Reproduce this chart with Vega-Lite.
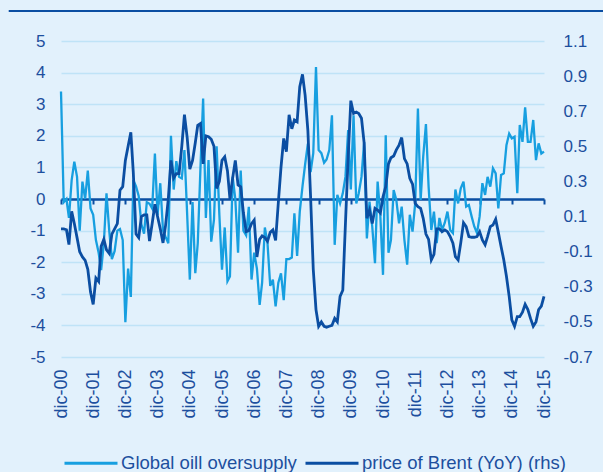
{
  "$schema": "https://vega.github.io/schema/vega-lite/v6.json",
  "width": 483,
  "height": 316,
  "autosize": {"type": "none"},
  "padding": {"left": 61, "top": 41, "right": 59, "bottom": 115},
  "background": "#e2f1fc",
  "config": {
    "view": {"stroke": null},
    "font": "Liberation Sans",
    "locale": {"number": {"decimal": ".", "thousands": ",", "grouping": [3], "currency": ["$", ""], "minus": "-"}},
    "axis": {"labelFont": "Liberation Sans", "labelColor": "#1d4f9e", "titleColor": "#1d4f9e"},
    "legend": {"labelFont": "Liberation Sans"}
  },
  "data": {"values": [
    {"date":"2000-12-01","oversupply":3.4,"brent":0.03},
    {"date":"2001-01-01","oversupply":-0.1,"brent":0.03},
    {"date":"2001-02-01","oversupply":0.0,"brent":0.025},
    {"date":"2001-03-01","oversupply":-0.6,"brent":-0.06},
    {"date":"2001-04-01","oversupply":0.6,"brent":0.13},
    {"date":"2001-05-01","oversupply":1.18,"brent":0.06},
    {"date":"2001-06-01","oversupply":0.7,"brent":-0.02},
    {"date":"2001-07-01","oversupply":-1.0,"brent":-0.1},
    {"date":"2001-08-01","oversupply":0.55,"brent":-0.13},
    {"date":"2001-09-01","oversupply":0.0,"brent":-0.15},
    {"date":"2001-10-01","oversupply":0.9,"brent":-0.2},
    {"date":"2001-11-01","oversupply":-0.3,"brent":-0.33},
    {"date":"2001-12-01","oversupply":-0.5,"brent":-0.4},
    {"date":"2002-01-01","oversupply":-1.3,"brent":-0.25},
    {"date":"2002-02-01","oversupply":-1.7,"brent":-0.27},
    {"date":"2002-03-01","oversupply":-2.25,"brent":-0.07},
    {"date":"2002-04-01","oversupply":-1.4,"brent":-0.03},
    {"date":"2002-05-01","oversupply":0.18,"brent":-0.09},
    {"date":"2002-06-01","oversupply":-1.0,"brent":-0.11},
    {"date":"2002-07-01","oversupply":-1.9,"brent":0.0},
    {"date":"2002-08-01","oversupply":-1.65,"brent":0.03},
    {"date":"2002-09-01","oversupply":-1.0,"brent":0.06},
    {"date":"2002-10-01","oversupply":-0.95,"brent":0.25},
    {"date":"2002-11-01","oversupply":-1.3,"brent":0.27},
    {"date":"2002-12-01","oversupply":-3.9,"brent":0.42},
    {"date":"2003-01-01","oversupply":-2.2,"brent":0.5},
    {"date":"2003-02-01","oversupply":-3.1,"brent":0.58},
    {"date":"2003-03-01","oversupply":0.6,"brent":0.35},
    {"date":"2003-04-01","oversupply":0.4,"brent":0.0},
    {"date":"2003-05-01","oversupply":0.1,"brent":-0.02},
    {"date":"2003-06-01","oversupply":-0.8,"brent":0.1},
    {"date":"2003-07-01","oversupply":-1.1,"brent":0.11},
    {"date":"2003-08-01","oversupply":-0.1,"brent":0.11},
    {"date":"2003-09-01","oversupply":-0.15,"brent":-0.04},
    {"date":"2003-10-01","oversupply":-0.3,"brent":0.06},
    {"date":"2003-11-01","oversupply":1.44,"brent":0.17},
    {"date":"2003-12-01","oversupply":-0.5,"brent":0.1},
    {"date":"2004-01-01","oversupply":0.5,"brent":0.03},
    {"date":"2004-02-01","oversupply":-1.0,"brent":-0.05},
    {"date":"2004-03-01","oversupply":-1.2,"brent":0.05},
    {"date":"2004-04-01","oversupply":-1.4,"brent":0.2},
    {"date":"2004-05-01","oversupply":2.0,"brent":0.42},
    {"date":"2004-06-01","oversupply":0.3,"brent":0.32},
    {"date":"2004-07-01","oversupply":1.2,"brent":0.345},
    {"date":"2004-08-01","oversupply":0.7,"brent":0.345},
    {"date":"2004-09-01","oversupply":0.65,"brent":0.5},
    {"date":"2004-10-01","oversupply":1.55,"brent":0.68},
    {"date":"2004-11-01","oversupply":-0.5,"brent":0.55},
    {"date":"2004-12-01","oversupply":-2.55,"brent":0.37},
    {"date":"2005-01-01","oversupply":-0.1,"brent":0.42},
    {"date":"2005-02-01","oversupply":-2.35,"brent":0.52},
    {"date":"2005-03-01","oversupply":-1.4,"brent":0.62},
    {"date":"2005-04-01","oversupply":1.0,"brent":0.63},
    {"date":"2005-05-01","oversupply":3.18,"brent":0.4},
    {"date":"2005-06-01","oversupply":-0.6,"brent":0.56},
    {"date":"2005-07-01","oversupply":1.23,"brent":0.555},
    {"date":"2005-08-01","oversupply":-1.35,"brent":0.54},
    {"date":"2005-09-01","oversupply":-0.65,"brent":0.5},
    {"date":"2005-10-01","oversupply":1.67,"brent":0.26},
    {"date":"2005-11-01","oversupply":-0.5,"brent":0.3},
    {"date":"2005-12-01","oversupply":-2.24,"brent":0.42},
    {"date":"2006-01-01","oversupply":-0.9,"brent":0.44},
    {"date":"2006-02-01","oversupply":-2.6,"brent":0.36},
    {"date":"2006-03-01","oversupply":-2.45,"brent":0.2},
    {"date":"2006-04-01","oversupply":0.7,"brent":0.32},
    {"date":"2006-05-01","oversupply":0.0,"brent":0.42},
    {"date":"2006-06-01","oversupply":-1.7,"brent":0.28},
    {"date":"2006-07-01","oversupply":0.9,"brent":0.27},
    {"date":"2006-08-01","oversupply":-1.0,"brent":0.12},
    {"date":"2006-09-01","oversupply":-1.15,"brent":0.014},
    {"date":"2006-10-01","oversupply":-0.25,"brent":0.02},
    {"date":"2006-11-01","oversupply":-2.55,"brent":0.06},
    {"date":"2006-12-01","oversupply":-1.7,"brent":0.08},
    {"date":"2007-01-01","oversupply":-2.2,"brent":-0.13},
    {"date":"2007-02-01","oversupply":-3.35,"brent":-0.03},
    {"date":"2007-03-01","oversupply":-2.65,"brent":-0.01},
    {"date":"2007-04-01","oversupply":-0.9,"brent":-0.02},
    {"date":"2007-05-01","oversupply":-1.4,"brent":-0.04},
    {"date":"2007-06-01","oversupply":-2.75,"brent":0.01},
    {"date":"2007-07-01","oversupply":-2.55,"brent":0.024},
    {"date":"2007-08-01","oversupply":-3.4,"brent":-0.036},
    {"date":"2007-09-01","oversupply":-2.65,"brent":0.18},
    {"date":"2007-10-01","oversupply":-2.35,"brent":0.38},
    {"date":"2007-11-01","oversupply":-3.2,"brent":0.545},
    {"date":"2007-12-01","oversupply":-1.9,"brent":0.47},
    {"date":"2008-01-01","oversupply":-1.9,"brent":0.68},
    {"date":"2008-02-01","oversupply":-1.85,"brent":0.6},
    {"date":"2008-03-01","oversupply":-0.45,"brent":0.65},
    {"date":"2008-04-01","oversupply":-1.8,"brent":0.64},
    {"date":"2008-05-01","oversupply":-0.4,"brent":0.84},
    {"date":"2008-06-01","oversupply":0.4,"brent":0.91},
    {"date":"2008-07-01","oversupply":1.1,"brent":0.79},
    {"date":"2008-08-01","oversupply":1.75,"brent":0.59},
    {"date":"2008-09-01","oversupply":0.85,"brent":0.21},
    {"date":"2008-10-01","oversupply":1.45,"brent":-0.2},
    {"date":"2008-11-01","oversupply":4.18,"brent":-0.43},
    {"date":"2008-12-01","oversupply":1.55,"brent":-0.525},
    {"date":"2009-01-01","oversupply":1.45,"brent":-0.5},
    {"date":"2009-02-01","oversupply":1.15,"brent":-0.525},
    {"date":"2009-03-01","oversupply":1.25,"brent":-0.53},
    {"date":"2009-04-01","oversupply":1.55,"brent":-0.525},
    {"date":"2009-05-01","oversupply":2.65,"brent":-0.52},
    {"date":"2009-06-01","oversupply":-1.45,"brent":-0.48},
    {"date":"2009-07-01","oversupply":0.13,"brent":-0.5},
    {"date":"2009-08-01","oversupply":-0.14,"brent":-0.355},
    {"date":"2009-09-01","oversupply":0.18,"brent":-0.32},
    {"date":"2009-10-01","oversupply":0.7,"brent":0.06},
    {"date":"2009-11-01","oversupply":2.18,"brent":0.44},
    {"date":"2009-12-01","oversupply":0.3,"brent":0.76},
    {"date":"2010-01-01","oversupply":2.65,"brent":0.687},
    {"date":"2010-02-01","oversupply":-0.14,"brent":0.695},
    {"date":"2010-03-01","oversupply":0.18,"brent":0.687},
    {"date":"2010-04-01","oversupply":0.7,"brent":0.66},
    {"date":"2010-05-01","oversupply":1.8,"brent":0.52},
    {"date":"2010-06-01","oversupply":-1.25,"brent":0.09},
    {"date":"2010-07-01","oversupply":-0.08,"brent":0.137},
    {"date":"2010-08-01","oversupply":-0.87,"brent":0.06},
    {"date":"2010-09-01","oversupply":-2.03,"brent":0.147},
    {"date":"2010-10-01","oversupply":0.55,"brent":0.137},
    {"date":"2010-11-01","oversupply":-0.55,"brent":0.12},
    {"date":"2010-12-01","oversupply":-2.4,"brent":0.213},
    {"date":"2011-01-01","oversupply":2.02,"brent":0.27},
    {"date":"2011-02-01","oversupply":-1.7,"brent":0.4},
    {"date":"2011-03-01","oversupply":-1.3,"brent":0.435},
    {"date":"2011-04-01","oversupply":0.28,"brent":0.445},
    {"date":"2011-05-01","oversupply":-0.03,"brent":0.48},
    {"date":"2011-06-01","oversupply":-0.77,"brent":0.507},
    {"date":"2011-07-01","oversupply":-0.24,"brent":0.55},
    {"date":"2011-08-01","oversupply":-1.3,"brent":0.43},
    {"date":"2011-09-01","oversupply":-2.08,"brent":0.4},
    {"date":"2011-10-01","oversupply":-0.5,"brent":0.318},
    {"date":"2011-11-01","oversupply":-1.03,"brent":0.285},
    {"date":"2011-12-01","oversupply":-0.14,"brent":0.175},
    {"date":"2012-01-01","oversupply":2.86,"brent":0.156},
    {"date":"2012-02-01","oversupply":-0.03,"brent":0.147},
    {"date":"2012-03-01","oversupply":1.34,"brent":0.09},
    {"date":"2012-04-01","oversupply":2.37,"brent":0.0},
    {"date":"2012-05-01","oversupply":0.4,"brent":-0.03},
    {"date":"2012-06-01","oversupply":-0.98,"brent":-0.147},
    {"date":"2012-07-01","oversupply":-0.4,"brent":-0.115},
    {"date":"2012-08-01","oversupply":-1.4,"brent":0.03},
    {"date":"2012-09-01","oversupply":-0.6,"brent":0.03},
    {"date":"2012-10-01","oversupply":-0.98,"brent":0.014},
    {"date":"2012-11-01","oversupply":-0.75,"brent":0.024},
    {"date":"2012-12-01","oversupply":-0.4,"brent":0.014},
    {"date":"2013-01-01","oversupply":-0.98,"brent":-0.014},
    {"date":"2013-02-01","oversupply":-1.08,"brent":-0.052},
    {"date":"2013-03-01","oversupply":0.3,"brent":-0.128},
    {"date":"2013-04-01","oversupply":-0.14,"brent":-0.147},
    {"date":"2013-05-01","oversupply":0.34,"brent":-0.05},
    {"date":"2013-06-01","oversupply":0.55,"brent":0.065},
    {"date":"2013-07-01","oversupply":-0.24,"brent":0.043},
    {"date":"2013-08-01","oversupply":-0.19,"brent":-0.014},
    {"date":"2013-09-01","oversupply":-0.55,"brent":-0.018},
    {"date":"2013-10-01","oversupply":-0.87,"brent":-0.018},
    {"date":"2013-11-01","oversupply":-1.08,"brent":-0.014},
    {"date":"2013-12-01","oversupply":-0.55,"brent":0.014},
    {"date":"2014-01-01","oversupply":0.5,"brent":-0.033},
    {"date":"2014-02-01","oversupply":0.13,"brent":-0.06},
    {"date":"2014-03-01","oversupply":0.7,"brent":-0.014},
    {"date":"2014-04-01","oversupply":0.39,"brent":0.043},
    {"date":"2014-05-01","oversupply":0.97,"brent":0.052},
    {"date":"2014-06-01","oversupply":0.81,"brent":0.085},
    {"date":"2014-07-01","oversupply":-0.3,"brent":0.01},
    {"date":"2014-08-01","oversupply":0.76,"brent":-0.07},
    {"date":"2014-09-01","oversupply":0.81,"brent":-0.147},
    {"date":"2014-10-01","oversupply":1.7,"brent":-0.24},
    {"date":"2014-11-01","oversupply":2.07,"brent":-0.355},
    {"date":"2014-12-01","oversupply":1.92,"brent":-0.488},
    {"date":"2015-01-01","oversupply":1.97,"brent":-0.525},
    {"date":"2015-02-01","oversupply":0.18,"brent":-0.47},
    {"date":"2015-03-01","oversupply":2.34,"brent":-0.47},
    {"date":"2015-04-01","oversupply":1.81,"brent":-0.445},
    {"date":"2015-05-01","oversupply":2.9,"brent":-0.4},
    {"date":"2015-06-01","oversupply":1.81,"brent":-0.43},
    {"date":"2015-07-01","oversupply":1.81,"brent":-0.48},
    {"date":"2015-08-01","oversupply":2.5,"brent":-0.525},
    {"date":"2015-09-01","oversupply":1.23,"brent":-0.5},
    {"date":"2015-10-01","oversupply":1.76,"brent":-0.43},
    {"date":"2015-11-01","oversupply":1.44,"brent":-0.41},
    {"date":"2015-12-01","oversupply":1.5,"brent":-0.355}
  ]},
  "layer": [
    {
      "data": {"values": [{}]},
      "mark": {"type": "rule", "color": "#0b4ea2", "strokeWidth": 2.2},
      "encoding": {
        "x": {"datum": {"year": 1999, "month": 4, "date": 18, "utc": true}, "type": "temporal",
              "scale": {"type": "utc", "domain": [{"year": 2000, "month": 12, "date": 1, "utc": true}, {"year": 2015, "month": 12, "date": 1, "utc": true}]},
              "axis": null},
        "x2": {"datum": {"year": 2018, "month": 1, "date": 1, "utc": true}},
        "y": {"datum": 5.95, "type": "quantitative", "scale": {"domain": [-5, 5], "nice": false}, "axis": null}
      }
    },
    {
      "mark": {"type": "line", "strokeWidth": 2.3},
      "encoding": {
        "x": {"field": "date", "type": "temporal",
              "scale": {"type": "utc", "domain": [{"year": 2000, "month": 12, "date": 1, "utc": true}, {"year": 2015, "month": 12, "date": 1, "utc": true}]},
              "axis": {"orient": "bottom", "title": null, "labelAngle": -90, "labelFontSize": 18, "labelPadding": 12,
                       "ticks": false, "domain": false, "grid": false,
                       "values": [
                         {"year": 2000, "month": 12, "date": 1, "utc": true},
                         {"year": 2001, "month": 12, "date": 1, "utc": true},
                         {"year": 2002, "month": 12, "date": 1, "utc": true},
                         {"year": 2003, "month": 12, "date": 1, "utc": true},
                         {"year": 2004, "month": 12, "date": 1, "utc": true},
                         {"year": 2005, "month": 12, "date": 1, "utc": true},
                         {"year": 2006, "month": 12, "date": 1, "utc": true},
                         {"year": 2007, "month": 12, "date": 1, "utc": true},
                         {"year": 2008, "month": 12, "date": 1, "utc": true},
                         {"year": 2009, "month": 12, "date": 1, "utc": true},
                         {"year": 2010, "month": 12, "date": 1, "utc": true},
                         {"year": 2011, "month": 12, "date": 1, "utc": true},
                         {"year": 2012, "month": 12, "date": 1, "utc": true},
                         {"year": 2013, "month": 12, "date": 1, "utc": true},
                         {"year": 2014, "month": 12, "date": 1, "utc": true},
                         {"year": 2015, "month": 12, "date": 1, "utc": true}
                       ],
                       "labelExpr": "'dic-' + utcFormat(datum.value, '%y')"}},
        "y": {"field": "oversupply", "type": "quantitative",
              "scale": {"domain": [-5, 5], "nice": false},
              "axis": {"orient": "left", "title": null, "values": [-5,-4,-3,-2,-1,0,1,2,3,4,5],
                       "grid": true, "gridColor": "#bfe3f7", "gridWidth": 1.3,
                       "domain": false, "ticks": false, "labelFontSize": 17, "labelPadding": 16}},
        "color": {"datum": "Global oill oversupply", "type": "nominal",
                  "scale": {"domain": ["Global oill oversupply", "price of Brent (YoY) (rhs)"], "range": ["#179fe0", "#0b4ea2"]},
                  "legend": {"orient": "none", "legendX": 2, "legendY": 394, "direction": "horizontal", "title": null,
                             "symbolType": "stroke", "symbolSize": 2809, "symbolStrokeWidth": 3,
                             "labelFontSize": 18.5, "labelColor": "#1d4f9e", "labelOffset": 2, "columnPadding": 2,
                             "padding": 0, "labelLimit": 400}}
      }
    },
    {
      "mark": {"type": "line", "strokeWidth": 2.8},
      "encoding": {
        "x": {"field": "date", "type": "temporal",
              "scale": {"type": "utc", "domain": [{"year": 2000, "month": 12, "date": 1, "utc": true}, {"year": 2015, "month": 12, "date": 1, "utc": true}]},
              "axis": {"orient": "bottom", "title": null, "offset": -158, "labels": false,
                       "ticks": true, "tickSize": 5, "tickWidth": 2, "tickColor": "#0b4ea2",
                       "domain": true, "domainColor": "#0b4ea2", "domainWidth": 2.6, "grid": false,
                       "values": [
                         {"year": 2000, "month": 12, "date": 1, "utc": true},
                         {"year": 2001, "month": 12, "date": 1, "utc": true},
                         {"year": 2002, "month": 12, "date": 1, "utc": true},
                         {"year": 2003, "month": 12, "date": 1, "utc": true},
                         {"year": 2004, "month": 12, "date": 1, "utc": true},
                         {"year": 2005, "month": 12, "date": 1, "utc": true},
                         {"year": 2006, "month": 12, "date": 1, "utc": true},
                         {"year": 2007, "month": 12, "date": 1, "utc": true},
                         {"year": 2008, "month": 12, "date": 1, "utc": true},
                         {"year": 2009, "month": 12, "date": 1, "utc": true},
                         {"year": 2010, "month": 12, "date": 1, "utc": true},
                         {"year": 2011, "month": 12, "date": 1, "utc": true},
                         {"year": 2012, "month": 12, "date": 1, "utc": true},
                         {"year": 2013, "month": 12, "date": 1, "utc": true},
                         {"year": 2014, "month": 12, "date": 1, "utc": true},
                         {"year": 2015, "month": 12, "date": 1, "utc": true}
                       ]}},
        "y": {"field": "brent", "type": "quantitative",
              "scale": {"domain": [-0.7, 1.1], "nice": false, "zero": false},
              "axis": {"orient": "right", "title": null, "values": [-0.7,-0.5,-0.3,-0.1,0.1,0.3,0.5,0.7,0.9,1.1],
                       "format": ".1f", "grid": false, "domain": false, "ticks": false,
                       "labelFontSize": 17, "labelPadding": 19}},
        "color": {"datum": "price of Brent (YoY) (rhs)", "type": "nominal"}
      }
    }
  ],
  "resolve": {"scale": {"y": "independent"}, "axis": {"x": "independent", "y": "independent"}}
}
